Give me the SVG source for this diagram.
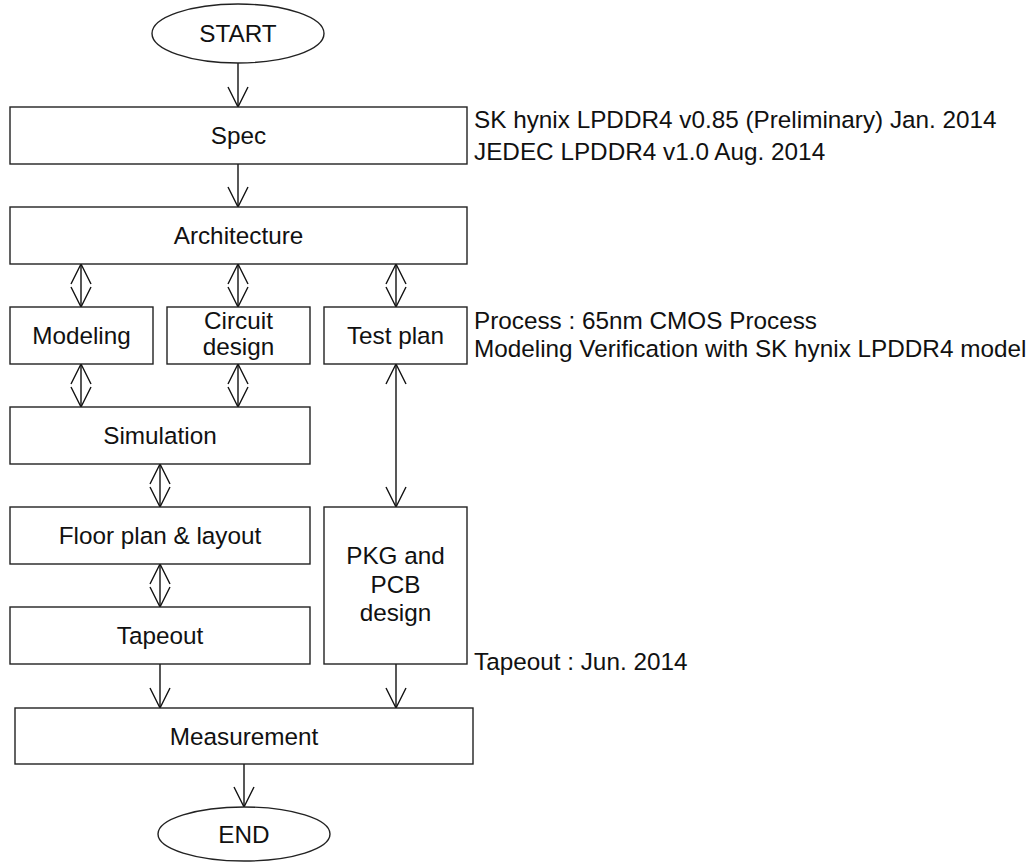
<svg xmlns="http://www.w3.org/2000/svg" width="1033" height="862" viewBox="0 0 1033 862">
  <style>
    .box { fill: #ffffff; stroke: #222222; stroke-width: 1.4; }
    .lbl { font-family: "Liberation Sans", Arial, sans-serif; font-size: 24.3px; fill: #111111; text-anchor: middle; }
    .note { font-family: "Liberation Sans", Arial, sans-serif; font-size: 24.3px; fill: #111111; }
    .edge { fill: none; stroke: #111111; stroke-width: 1.4; }
    .one { marker-end: url(#vhead); }
    .two { marker-start: url(#vhead); marker-end: url(#vhead); }
  </style>
  <defs>
    <marker id="vhead" viewBox="-21 -11 22 22" refX="0" refY="0" markerWidth="22" markerHeight="22" markerUnits="userSpaceOnUse" orient="auto-start-reverse" overflow="visible">
      <path d="M-20,-10 L0,0 L-20,10" fill="none" stroke="#111111" stroke-width="1.4"/>
    </marker>
  </defs>
  <rect width="1033" height="862" fill="#ffffff"/>

  <!-- connectors -->
  <g id="connectors">
    <line class="edge one" x1="238" y1="63" x2="238" y2="107"/>
    <line class="edge one" x1="238" y1="164" x2="238" y2="207"/>
    <line class="edge two" x1="81" y1="264" x2="81" y2="307"/>
    <line class="edge two" x1="238" y1="264" x2="238" y2="307"/>
    <line class="edge two" x1="396" y1="264" x2="396" y2="307"/>
    <line class="edge two" x1="81" y1="364" x2="81" y2="407"/>
    <line class="edge two" x1="238" y1="364" x2="238" y2="407"/>
    <line class="edge two" x1="160" y1="464" x2="160" y2="507"/>
    <line class="edge two" x1="160" y1="564" x2="160" y2="607"/>
    <line class="edge two" x1="396" y1="364" x2="396" y2="507"/>
    <line class="edge one" x1="160" y1="664" x2="160" y2="708"/>
    <line class="edge one" x1="396" y1="664" x2="396" y2="708"/>
    <line class="edge one" x1="244" y1="764" x2="244" y2="807"/>
  </g>

  <g id="start">
    <ellipse class="box" cx="238" cy="33.5" rx="86" ry="29.5"/>
    <text class="lbl" x="238" y="42">START</text>
  </g>
  <g id="spec">
    <rect class="box" x="10" y="107" width="457" height="57"/>
    <text class="lbl" x="238.5" y="144">Spec</text>
  </g>
  <g id="architecture">
    <rect class="box" x="10" y="207" width="457" height="57"/>
    <text class="lbl" x="238.5" y="244">Architecture</text>
  </g>
  <g id="modeling">
    <rect class="box" x="10" y="307" width="143" height="57"/>
    <text class="lbl" x="81.5" y="344">Modeling</text>
  </g>
  <g id="circuit-design">
    <rect class="box" x="167" y="307" width="143" height="57"/>
    <text class="lbl" x="238.5" y="329">Circuit</text>
    <text class="lbl" x="238.5" y="355">design</text>
  </g>
  <g id="test-plan">
    <rect class="box" x="324" y="307" width="143" height="57"/>
    <text class="lbl" x="395.5" y="344">Test plan</text>
  </g>
  <g id="simulation">
    <rect class="box" x="10" y="407" width="300" height="57"/>
    <text class="lbl" x="160" y="444">Simulation</text>
  </g>
  <g id="floor-plan">
    <rect class="box" x="10" y="507" width="300" height="57"/>
    <text class="lbl" x="160" y="544">Floor plan &amp; layout</text>
  </g>
  <g id="tapeout">
    <rect class="box" x="10" y="607" width="300" height="57"/>
    <text class="lbl" x="160" y="644">Tapeout</text>
  </g>
  <g id="pkg-pcb">
    <rect class="box" x="324" y="507" width="143" height="157"/>
    <text class="lbl" x="395.5" y="564">PKG and</text>
    <text class="lbl" x="395.5" y="593">PCB</text>
    <text class="lbl" x="395.5" y="621">design</text>
  </g>
  <g id="measurement">
    <rect class="box" x="15" y="708" width="458" height="56"/>
    <text class="lbl" x="244" y="745">Measurement</text>
  </g>
  <g id="end">
    <ellipse class="box" cx="244" cy="834" rx="86" ry="27"/>
    <text class="lbl" x="244" y="843">END</text>
  </g>

  <!-- side notes -->
  <g id="notes">
    <text class="note" x="474" y="128">SK hynix LPDDR4 v0.85 (Preliminary) Jan. 2014</text>
    <text class="note" x="474" y="160">JEDEC LPDDR4 v1.0 Aug. 2014</text>
    <text class="note" x="474" y="329">Process : 65nm CMOS Process</text>
    <text class="note" x="474" y="357">Modeling Verification with SK hynix LPDDR4 model</text>
    <text class="note" x="474" y="670">Tapeout : Jun. 2014</text>
  </g>
</svg>
